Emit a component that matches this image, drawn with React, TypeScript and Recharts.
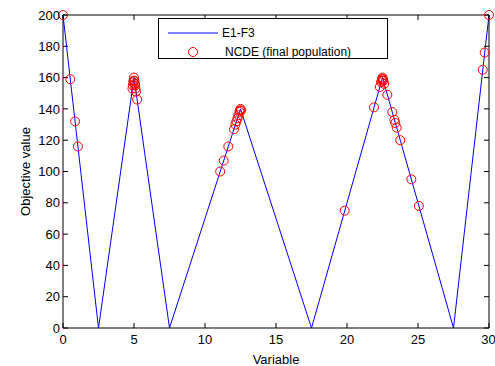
import {
  ComposedChart,
  Line,
  Scatter,
  XAxis,
  YAxis,
  Legend,
} from "recharts";

// E1-F3 trap function breakpoints
const curveX = [0, 2.5, 5, 7.5, 12.5, 17.5, 22.5, 27.5, 30];
const curveY = [200, 0, 160, 0, 140, 0, 160, 0, 200];

// NCDE final population
const popX = [
  0, 0.51, 0.85, 1.05,
  4.89, 4.92, 4.95, 4.97, 5.0, 5.03, 5.06, 5.08, 5.11, 5.14, 5.22,
  11.07, 11.32, 11.64, 12.04, 12.14, 12.21, 12.29, 12.36, 12.43, 12.46, 12.5, 12.54,
  19.84,
  21.9, 22.31, 22.4, 22.44, 22.47, 22.5, 22.53, 22.56, 22.62, 22.84,
  23.19, 23.34, 23.4, 23.5, 23.75, 24.53, 25.06,
  29.56, 29.7, 30,
];
const popY = [
  200, 159, 132, 116,
  153, 155, 157, 158, 160, 158, 156, 155, 153, 151, 146,
  100, 107, 116, 127, 130, 132, 134, 136, 138, 139, 140, 139,
  75,
  141, 154, 157, 158, 159, 160, 159, 158, 156, 149,
  138, 133, 131, 128, 120, 95, 78,
  165, 176, 200,
];

const xTicks = [0, 5, 10, 15, 20, 25, 30];
const yTicks = [0, 20, 40, 60, 80, 100, 120, 140, 160, 180, 200];

const curveData = curveX.map((x, i) => ({ x, y: curveY[i] }));
const popData = popX.map((x, i) => ({ x, y: popY[i] }));

const FONT = "'Liberation Sans', Arial, sans-serif";
const tickStyle = { fontSize: 13, fill: "#000", fontFamily: FONT };

function LegendBox() {
  return (
    <div
      style={{
        width: 230,
        height: 41,
        boxSizing: "border-box",
        border: "1px solid #000",
        background: "#fff",
      }}
    >
      <svg width={228} height={39} style={{ display: "block" }}>
        <line x1={9} y1={14} x2={59} y2={14} stroke="#0000ff" strokeWidth={1} />
        <text x={63} y={18} fontSize={12} fontFamily={FONT} fill="#000">
          E1-F3
        </text>
        <circle cx={34} cy={33} r={4.5} fill="none" stroke="#ff0000" strokeWidth={1} />
        <text x={66} y={37} fontSize={12} fontFamily={FONT} fill="#000">
          NCDE (final population)
        </text>
      </svg>
    </div>
  );
}

export default function App() {
  return (
    <div style={{ position: "absolute", left: 0, top: 0, background: "#fff" }}>
      <ComposedChart
        width={495}
        height={366}
        margin={{ top: 14, right: 5, bottom: 0, left: 0 }}
      >
        <XAxis
          dataKey="x"
          type="number"
          domain={[0, 30]}
          ticks={xTicks}
          height={38}
          stroke="#000"
          tickSize={-5}
          tickMargin={12}
          tick={tickStyle}
          label={{
            value: "Variable",
            position: "insideBottom",
            offset: 2,
            style: { fontSize: 13, fill: "#000", fontFamily: FONT },
          }}
        />
        <XAxis
          xAxisId="top"
          dataKey="x"
          orientation="top"
          type="number"
          domain={[0, 30]}
          ticks={xTicks}
          height={1}
          stroke="#000"
          tickSize={-5}
          tickFormatter={() => ""}
        />
        <YAxis
          dataKey="y"
          type="number"
          domain={[0, 200]}
          ticks={yTicks}
          width={63}
          stroke="#000"
          tickSize={-5}
          tickMargin={8}
          tick={tickStyle}
          label={{
            value: "Objective value",
            angle: -90,
            position: "center",
            dx: -6,
            style: { fontSize: 13, fill: "#000", fontFamily: FONT },
          }}
        />
        <YAxis
          yAxisId="right"
          dataKey="y"
          orientation="right"
          type="number"
          domain={[0, 200]}
          ticks={yTicks}
          width={1}
          stroke="#000"
          tickSize={-5}
          tickFormatter={() => ""}
        />
        <Line
          data={curveData}
          xAxisId="top"
          yAxisId="right"
          dataKey="y"
          stroke="#0000ff"
          strokeWidth={1}
          dot={false}
          isAnimationActive={false}
        />
        <Scatter
          data={popData}
          dataKey="y"
          isAnimationActive={false}
          shape={(p: any) => (
            <circle cx={p.cx} cy={p.cy} r={4.5} fill="none" stroke="#ff0000" strokeWidth={1} />
          )}
        />
        <Legend
          layout="vertical"
          align="center"
          verticalAlign="middle"
          wrapperStyle={{ left: 158, top: 18, width: 230, height: 41 }}
          content={() => <LegendBox />}
        />
      </ComposedChart>
    </div>
  );
}
